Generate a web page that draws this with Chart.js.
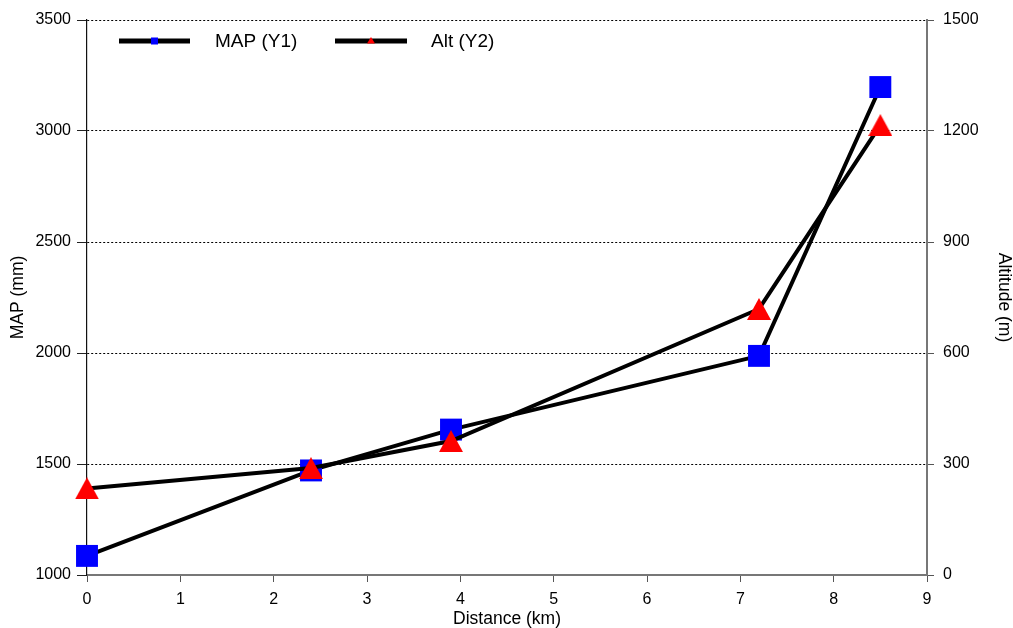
<!DOCTYPE html>
<html>
<head>
<meta charset="utf-8">
<script src="https://cdn.jsdelivr.net/npm/chart.js@4"></script>
<style>
  body { margin: 0; background: #fff; }
  #wrap { width: 1013px; height: 628px; position: relative; }
</style>
</head>
<body>
<div id="wrap"><canvas id="line-chart"></canvas></div>
<script>
distance = [0, 2.4, 3.9, 7.2, 8.5]
map = [1086, 1471, 1655, 1987, 3198]
alt = [234, 289, 362, 719, 1216]

xTicks = [0, 1, 2, 3, 4, 5, 6, 7, 8, 9]
y1Ticks = [1000, 1500, 2000, 2500, 3000, 3500]
y2Ticks = [0, 300, 600, 900, 1200, 1500]

FONT = '"Liberation Sans", Arial, sans-serif'

function pts(ys) {
    var out = []
    for (var index in distance) {
        out.push({x: distance[index], y: ys[index]})
    }
    return out
}

function plain(value) {
    return String(value)
}

// triangle marker centred on its box, like the original plot
function triangleMarker(w, h, color) {
    var c = document.createElement('canvas')
    c.width = w
    c.height = h
    var g = c.getContext('2d')
    g.fillStyle = color
    g.beginPath()
    g.moveTo(w / 2, 0)
    g.lineTo(w, h)
    g.lineTo(0, h)
    g.closePath()
    g.fill()
    return c
}

var redTri = triangleMarker(24, 22, '#ff0000')

// legend drawn inside the plot, top-left
var innerLegend = {
    id: 'innerLegend',
    afterDraw: function (chart) {
        var ctx = chart.ctx
        var slots = [{x0: 119, x1: 190, tx: 215}, {x0: 335, x1: 407, tx: 431}]
        var y = 41
        chart.data.datasets.forEach(function (ds, i) {
            var s = slots[i]
            ctx.save()
            ctx.strokeStyle = '#000'
            ctx.lineWidth = 5
            ctx.beginPath()
            ctx.moveTo(s.x0, y)
            ctx.lineTo(s.x1, y)
            ctx.stroke()
            var cx = (s.x0 + s.x1) / 2
            ctx.fillStyle = ds.pointBackgroundColor
            if (ds.pointStyle == 'rect') {
                ctx.fillRect(cx - 3.5, y - 3.5, 7, 7)
            } else {
                ctx.beginPath()
                ctx.moveTo(cx, y - 4)
                ctx.lineTo(cx + 4, y + 2.5)
                ctx.lineTo(cx - 4, y + 2.5)
                ctx.closePath()
                ctx.fill()
            }
            ctx.fillStyle = '#000'
            ctx.font = '19px ' + FONT
            ctx.textBaseline = 'middle'
            ctx.textAlign = 'left'
            ctx.fillText(ds.label, s.tx, y + 1)
            ctx.restore()
        })
    }
}

new Chart(document.getElementById("line-chart"), {
    type: 'line',
    data: {
        datasets: [{
            label: 'MAP (Y1)',
            data: pts(map),
            yAxisID: 'y',
            order: 2,
            clip: false,
            borderColor: '#000',
            borderWidth: 4,
            pointStyle: 'rect',
            pointRadius: 15.5,
            pointHoverRadius: 15.5,
            pointBackgroundColor: '#0000ff',
            pointBorderWidth: 0,
            tension: 0
        }, {
            label: 'Alt (Y2)',
            data: pts(alt),
            yAxisID: 'y2',
            order: 1,
            clip: false,
            borderColor: '#000',
            borderWidth: 4,
            pointStyle: redTri,
            pointRadius: 12,
            pointHoverRadius: 12,
            pointBackgroundColor: '#ff0000',
            pointBorderWidth: 0,
            tension: 0
        }]
    },
    options: {
        responsive: true,
        maintainAspectRatio: false,
        animation: false,
        layout: {padding: {top: 20, left: 0, right: 0, bottom: 0}},
        plugins: {
            legend: {display: false},
            tooltip: {enabled: false}
        },
        scales: {
            x: {
                type: 'linear',
                min: 0,
                max: 9,
                afterBuildTicks: function (axis) {
                    axis.ticks = xTicks.map(function (v) { return {value: v} })
                },
                afterFit: function (axis) { axis.height = 53 },
                grid: {drawOnChartArea: false, drawTicks: true, tickLength: 7, tickColor: '#555', tickWidth: 1},
                border: {color: '#777', width: 2},
                ticks: {color: '#000', font: {family: FONT, size: 16}, padding: 8, maxRotation: 0, callback: plain},
                title: {display: true, text: 'Distance (km)', color: '#000', font: {family: FONT, size: 17.5, lineHeight: 1}, padding: {top: 0, bottom: 0}}
            },
            y: {
                type: 'linear',
                position: 'left',
                min: 1000,
                max: 3500,
                afterBuildTicks: function (axis) {
                    axis.ticks = y1Ticks.map(function (v) { return {value: v} })
                },
                afterFit: function (axis) { axis.width = 87 },
                grid: {color: '#000', lineWidth: 1, drawTicks: true, tickLength: 10, tickColor: '#222', tickWidth: 1, tickBorderDash: []},
                border: {color: '#111', width: 1.2, dash: [2, 2]},
                ticks: {color: '#000', font: {family: FONT, size: 16}, padding: 6, callback: plain},
                title: {display: true, text: 'MAP (mm)', color: '#000', font: {family: FONT, size: 17.5, lineHeight: 1}, padding: {top: 9, bottom: 0}}
            },
            y2: {
                type: 'linear',
                position: 'right',
                min: 0,
                max: 1500,
                afterBuildTicks: function (axis) {
                    axis.ticks = y2Ticks.map(function (v) { return {value: v} })
                },
                afterFit: function (axis) { axis.width = 86 },
                grid: {drawOnChartArea: false, drawTicks: true, tickLength: 7, tickColor: '#555', tickWidth: 1},
                border: {color: '#777', width: 2},
                ticks: {color: '#000', font: {family: FONT, size: 16}, padding: 9, callback: plain},
                title: {display: true, text: 'Altitude (m)', color: '#000', font: {family: FONT, size: 17.5, lineHeight: 1}, padding: {top: 0, bottom: 0}}
            }
        }
    },
    plugins: [innerLegend]
});
</script>
</body>
</html>
